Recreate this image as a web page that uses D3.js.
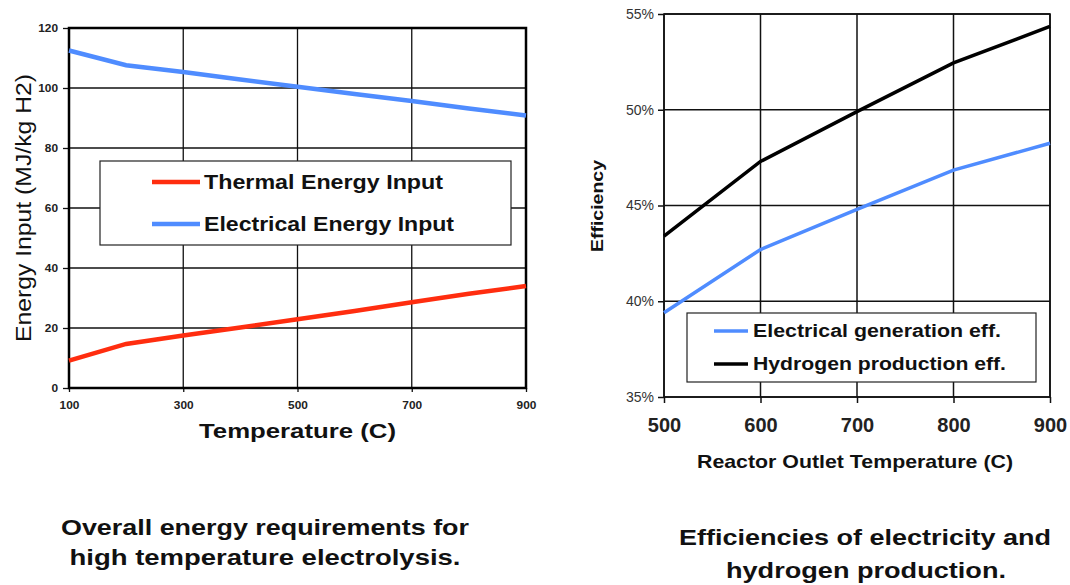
<!DOCTYPE html>
<html>
<head>
<meta charset="utf-8">
<script src="https://cdn.jsdelivr.net/npm/d3@7"></script>
<style>
  body { margin: 0; background: #fff; }
  svg { display: block; font-family: "Liberation Sans", Arial, sans-serif; }
</style>
</head>
<body>
<svg id="chart" width="1070" height="585"></svg>
<script>
// left chart: energy input vs temperature
const tempLeft = [100, 200, 300, 400, 500, 600, 700, 800, 900];
const thermalInput = [9.1, 14.7, 17.5, 20.2, 22.9, 25.7, 28.6, 31.4, 34.0];
const electricalInput = [112.5, 107.6, 105.3, 102.8, 100.4, 98.0, 95.7, 93.2, 90.8];
const leftXTicks = [100, 300, 500, 700, 900];
const leftYTicks = [0, 20, 40, 60, 80, 100, 120];

// right chart: efficiency vs reactor outlet temperature
const tempRight = [500, 600, 700, 800, 900];
const electricalEff = [39.4, 42.7, 44.8, 46.85, 48.25];
const hydrogenEff = [43.4, 47.3, 49.9, 52.45, 54.35];
const rightXTicks = [500, 600, 700, 800, 900];
const rightYTicks = [35, 40, 45, 50, 55];

const RED = "#ff2d0f";
const BLUE = "#4f8cff";
const FONT = "'Liberation Sans', Arial, sans-serif";

const svg = d3.select("#chart");

// the source text is set a bit wider than Arial, so stretch to the measured width
function stretched(sel, len) {
  return sel.attr("textLength", len).attr("lengthAdjust", "spacingAndGlyphs");
}

function drawGrid(g, x, y, xTicks, yTicks, w, h, gridWidth) {
  g.append("g")
    .selectAll("line")
    .data(xTicks)
    .join("line")
    .attr("x1", (d) => x(d)).attr("x2", (d) => x(d))
    .attr("y1", 0).attr("y2", h)
    .attr("stroke", "#111").attr("stroke-width", gridWidth);
  g.append("g")
    .selectAll("line")
    .data(yTicks)
    .join("line")
    .attr("x1", 0).attr("x2", w)
    .attr("y1", (d) => y(d)).attr("y2", (d) => y(d))
    .attr("stroke", "#111").attr("stroke-width", gridWidth);
}

// ---------- left chart ----------
{
  const m = { left: 69, top: 28, w: 457, h: 360 };
  const x = d3.scaleLinear().domain([100, 900]).range([0, m.w]);
  const y = d3.scaleLinear().domain([0, 120]).range([m.h, 0]);
  const g = svg.append("g").attr("transform", `translate(${m.left},${m.top})`);

  drawGrid(g, x, y, leftXTicks, leftYTicks, m.w, m.h, 1.3);

  const yAxis = g.append("g")
    .call(d3.axisLeft(y).tickValues(leftYTicks).tickSize(6).tickPadding(5));
  const xAxis = g.append("g").attr("transform", `translate(0,${m.h})`)
    .call(d3.axisBottom(x).tickValues(leftXTicks).tickSize(4).tickPadding(10));
  [yAxis, xAxis].forEach((a) => {
    a.select(".domain").remove();
    a.selectAll("line").attr("stroke", "#111").attr("stroke-width", 1.3);
    a.selectAll("text")
      .attr("fill", "#222")
      .style("font-size", "10px")
      .style("font-weight", "bold")
      .style("font-family", FONT)
      .each(function (d) {
        const n = String(d).length;
        stretched(d3.select(this), n * 6.6);
      });
  });

  g.append("rect").attr("width", m.w).attr("height", m.h)
    .attr("fill", "none").attr("stroke", "#000").attr("stroke-width", 2.5);

  const line = d3.line().x((d) => x(d[0])).y((d) => y(d[1]));
  g.append("path").datum(d3.zip(tempLeft, electricalInput))
    .attr("d", line).attr("fill", "none").attr("stroke", BLUE).attr("stroke-width", 4.5);
  g.append("path").datum(d3.zip(tempLeft, thermalInput))
    .attr("d", line).attr("fill", "none").attr("stroke", RED).attr("stroke-width", 4.5);

  // legend
  const lg = svg.append("g").attr("transform", "translate(100,161)");
  lg.append("rect").attr("width", 411).attr("height", 84)
    .attr("fill", "#fff").attr("stroke", "#222").attr("stroke-width", 1.2);
  [["Thermal Energy Input", RED, 239], ["Electrical Energy Input", BLUE, 250]].forEach(([label, c, len], i) => {
    const yy = 21 + i * 42;
    lg.append("line").attr("x1", 52).attr("x2", 100).attr("y1", yy).attr("y2", yy)
      .attr("stroke", c).attr("stroke-width", 4.5);
    stretched(lg.append("text").attr("x", 104).attr("y", yy + 7), len)
      .style("font-size", "20px").style("font-weight", "bold").attr("fill", "#111")
      .text(label);
  });

  stretched(svg.append("text")
    .attr("transform", `translate(31,208) rotate(-90)`)
    .attr("text-anchor", "middle"), 268)
    .style("font-size", "22px").attr("fill", "#111")
    .text("Energy Input (MJ/kg H2)");
  stretched(svg.append("text")
    .attr("x", 297.5).attr("y", 438)
    .attr("text-anchor", "middle"), 197)
    .style("font-size", "21px").style("font-weight", "bold").attr("fill", "#111")
    .text("Temperature (C)");

  const cap = svg.append("g").attr("fill", "#111")
    .style("font-size", "22px").style("font-weight", "bold");
  stretched(cap.append("text").attr("text-anchor", "middle").attr("x", 265).attr("y", 535), 408)
    .text("Overall energy requirements for");
  stretched(cap.append("text").attr("text-anchor", "middle").attr("x", 265).attr("y", 565), 391)
    .text("high temperature electrolysis.");
}

// ---------- right chart ----------
{
  const m = { left: 664, top: 14, w: 386, h: 383 };
  const x = d3.scaleLinear().domain([500, 900]).range([0, m.w]);
  const y = d3.scaleLinear().domain([35, 55]).range([m.h, 0]);
  const g = svg.append("g").attr("transform", `translate(${m.left},${m.top})`);

  drawGrid(g, x, y, rightXTicks, rightYTicks, m.w, m.h, 1.5);

  const yAxis = g.append("g")
    .call(d3.axisLeft(y).tickValues(rightYTicks).tickSize(6).tickPadding(4)
      .tickFormat((d) => d + "%"));
  const xAxis = g.append("g").attr("transform", `translate(0,${m.h})`)
    .call(d3.axisBottom(x).tickValues(rightXTicks).tickSize(6).tickPadding(15));
  [yAxis, xAxis].forEach((a) => {
    a.select(".domain").remove();
    a.selectAll("line").attr("stroke", "#111").attr("stroke-width", 1.5);
    a.selectAll("text").attr("fill", "#222").style("font-family", FONT);
  });
  yAxis.selectAll("text").style("font-size", "14px").attr("fill", "#333");
  xAxis.selectAll("text").style("font-size", "20px").style("font-weight", "bold");

  g.append("rect").attr("width", m.w).attr("height", m.h)
    .attr("fill", "none").attr("stroke", "#111").attr("stroke-width", 1.6);

  const line = d3.line().x((d) => x(d[0])).y((d) => y(d[1]));
  g.append("path").datum(d3.zip(tempRight, hydrogenEff))
    .attr("d", line).attr("fill", "none").attr("stroke", "#000").attr("stroke-width", 3.5);
  g.append("path").datum(d3.zip(tempRight, electricalEff))
    .attr("d", line).attr("fill", "none").attr("stroke", BLUE).attr("stroke-width", 3.5);

  const lg = svg.append("g").attr("transform", "translate(687,313)");
  lg.append("rect").attr("width", 349).attr("height", 69)
    .attr("fill", "#fff").attr("stroke", "#222").attr("stroke-width", 1.2);
  [["Electrical generation eff.", BLUE, 248], ["Hydrogen production eff.", "#000", 253]].forEach(([label, c, len], i) => {
    const yy = 18 + i * 33;
    lg.append("line").attr("x1", 27).attr("x2", 61).attr("y1", yy).attr("y2", yy)
      .attr("stroke", c).attr("stroke-width", 3.5);
    stretched(lg.append("text").attr("x", 66).attr("y", yy + 6), len)
      .style("font-size", "18px").style("font-weight", "bold").attr("fill", "#111")
      .text(label);
  });

  stretched(svg.append("text")
    .attr("transform", `translate(603,206) rotate(-90)`)
    .attr("text-anchor", "middle"), 92)
    .style("font-size", "17px").style("font-weight", "bold").attr("fill", "#111")
    .text("Efficiency");
  stretched(svg.append("text")
    .attr("x", 855).attr("y", 468)
    .attr("text-anchor", "middle"), 316)
    .style("font-size", "19px").style("font-weight", "bold").attr("fill", "#111")
    .text("Reactor Outlet Temperature (C)");

  const cap = svg.append("g").attr("fill", "#111")
    .style("font-size", "22px").style("font-weight", "bold");
  stretched(cap.append("text").attr("text-anchor", "middle").attr("x", 865).attr("y", 545), 372)
    .text("Efficiencies of electricity and");
  stretched(cap.append("text").attr("text-anchor", "middle").attr("x", 866).attr("y", 578), 280)
    .text("hydrogen production.");
}
</script>
</body>
</html>
